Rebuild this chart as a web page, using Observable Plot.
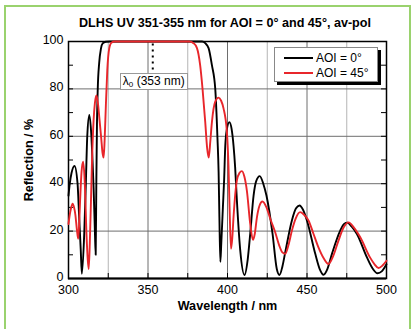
<!DOCTYPE html>
<html><head><meta charset="utf-8">
<script src="https://cdn.jsdelivr.net/npm/d3@7"></script>
<script src="https://cdn.jsdelivr.net/npm/@observablehq/plot@0.6"></script>
<style>
body{margin:0;background:#fff;font-family:"Liberation Sans",Arial,sans-serif;}
#wrap{position:relative;width:414px;height:329px;overflow:hidden;background:#fff;}
#border{position:absolute;left:4px;top:5px;width:407px;height:340px;border:2px solid #9ad26e;box-sizing:border-box;}
#title{position:absolute;left:25px;width:400px;top:16px;text-align:center;font-weight:bold;font-size:12.6px;line-height:15px;color:#000;white-space:nowrap;}
#chart{position:absolute;left:0;top:0;}
#legend{position:absolute;left:274px;top:47px;width:104px;height:35px;box-sizing:border-box;border:1px solid #888;background:#fff;box-shadow:3px 3px 0 #000;}
.lrow{position:absolute;left:0;width:100%;height:14px;}
.lline{position:absolute;left:9px;width:29px;height:2px;top:6px;}
.ltext{position:absolute;left:41px;top:0;font-size:12px;line-height:14px;white-space:nowrap;}
#lam{position:absolute;box-sizing:border-box;border:1px solid #999;background:#fff;font-size:12px;line-height:15px;text-align:center;white-space:nowrap;}
</style>
</head><body>
<div id="wrap">
  <div id="border"></div>
  <div id="chart"></div>
  <div id="title"></div>
  <div id="legend"></div>
</div>
<script>
const titleText = "DLHS UV 351-355 nm for AOI = 0° and 45°, av-pol";
const xLabel = "Wavelength / nm";
const yLabel = "Reflection / %";
const xTicks = [300, 350, 400, 450, 500];
const xMinorTicks = [300, 325, 350, 375, 400, 425, 450, 475, 500];
const yTicks = [0, 20, 40, 60, 80, 100];
const yMinorTicks = [10, 20, 30, 40, 50, 60, 70, 80, 90];
const lambda0 = 353;
const lambdaLabel = "(353 nm)";

const aoi0Wl = [300,300.8,301.9,303.8,305.7,306.7,307.7,308.4,309.9,310.9,311.8,313.1,314.4,315.1,315.8,316.6,317.1,317.5,317.9,318.4,319.3,320.4,321.5,323.5,326,384,386,388.1,390.2,392.3,393.7,394.4,394.9,395.5,396.1,397.1,397.9,398.6,399.6,401.2,402.6,403.8,404.8,405.9,408,410.7,412.7,414.3,416.4,418,420.3,422.5,424.5,428.3,431,432.7,434.5,436.3,440.5,443,445.3,447.5,450,455.2,458,460.4,462.8,465.7,470.9,473.3,475.5,478,481.4,487.7,491,494.4,497,500];
const aoi0R  = [35,40,44.5,47.5,40,26,12,2,19,40,60,69,60,50,38,20,10,40,65,80,91,97,99.2,99.9,100,100,99.3,97.2,90,80,59,45,26,7,15,30,42,56,63,66,63,56,47,33,12,1.5,8,19,35,41,43.2,40,35,19,4,1.5,5,11,24.5,29.5,30.8,29,24.4,10.4,4,1.6,4,10.4,20.2,23,23.5,22,18.8,8.9,4.5,2.2,3,6];

const aoi45Wl = [300,300.6,301.5,302.6,303.5,304.3,305.3,306.1,306.7,307.3,308.2,309.2,310.2,311.3,312.1,312.7,313.4,314.1,314.8,315.8,316.6,317.6,318.5,319.5,320.6,321.4,322.1,322.7,323.5,324.4,325.6,327,329,376,378.6,380.8,382.8,384.3,386,387.2,388.2,389.2,390.2,392.3,394.4,396,397.5,399.6,400.6,401.3,402.2,403,403.8,405.9,407.5,409.1,410.6,412.2,414.3,416,417.2,418.5,420,422,424.5,427,430,432.5,434.5,436.3,438.5,440.5,443,445.7,448,451,454,457.2,460.5,463.5,466.5,469.8,473,476.1,479.5,483.5,489.8,492.5,495,497.5,500];
const aoi45R  = [23,26,29.4,31.6,30,27,20.5,16.7,23,33,45,49.3,41,19,8,4,15,32,50,67,74,77.2,74,67,59,53,51,58,73,88,97,99.5,100,100,99.3,97.2,90,80,66,55,51,58,66,74.6,76.3,75,71.8,62,48,30,12.5,17,26,41.4,44.5,45.3,43,37,23,16.3,19,25.8,30.5,32.5,30,25,19.5,14,11,10.4,14.5,20.2,25.5,28,27,24.4,19,13.1,8.5,6.1,9.5,16,21.5,23.7,21.5,17.4,8.7,6,4.4,5.5,7.5];

const series = [
  {name: "AOI = 0°", wl: aoi0Wl, r: aoi0R, color: "#000000"},
  {name: "AOI = 45°", wl: aoi45Wl, r: aoi45R, color: "#e8262b"}
];
const rows = s => s.wl.map((w, i) => ({wl: w, r: s.r[i]}));

const W = 414, H = 329, mL = 68, mR = 28, mT = 41, mB = 51;
const pw = W - mL - mR, ph = H - mT - mB;

const plot = Plot.plot({
  width: W, height: H,
  marginLeft: mL, marginRight: mR, marginTop: mT, marginBottom: mB,
  x: {domain: [300, 500]},
  y: {domain: [0, 100]},
  style: {fontFamily: '"Liberation Sans", Arial, sans-serif', fontSize: "12px", background: "transparent", color: "#000", overflow: "visible"},
  marks: [
    Plot.gridX([325, 375, 425, 475], {stroke: "#b4b4b4", strokeOpacity: 1, strokeWidth: 1}),
    Plot.gridX([350, 400, 450], {stroke: "#6e6e6e", strokeOpacity: 1, strokeWidth: 1}),
    Plot.gridY([20, 40, 60, 80], {stroke: "#6e6e6e", strokeOpacity: 1, strokeWidth: 1}),
    Plot.tickY(yMinorTicks, {insetRight: pw - 5, stroke: "#000", strokeWidth: 1}),
    Plot.tickY(yMinorTicks, {insetLeft: pw - 5, stroke: "#000", strokeWidth: 1}),
    Plot.tickX(xMinorTicks, {insetTop: ph - 5, stroke: "#000", strokeWidth: 1}),
    Plot.frame({stroke: "#000", strokeWidth: 1.5}),
    Plot.ruleY([0], {stroke: "#000", strokeWidth: 2}),
    Plot.axisX(xTicks, {tickSize: 0, tickPadding: 6.5, label: null, fontSize: 12.5}),
    Plot.axisY(yTicks, {tickSize: 0, tickPadding: 5, dy: -1.5, label: null, fontSize: 12.5}),
    Plot.text([xLabel], {frameAnchor: "bottom", lineAnchor: "middle", textAnchor: "middle", dy: 27, fontWeight: "bold", fontSize: 12.6}),
    Plot.text([yLabel], {frameAnchor: "left", lineAnchor: "middle", textAnchor: "middle", rotate: -90, dx: -40, fontWeight: "bold", fontSize: 12.6}),
    Plot.ruleX([lambda0], {y1: 88, y2: 100, stroke: "#000", strokeWidth: 2, strokeDasharray: "2,4"}),
    ...series.map(s => Plot.line(rows(s), {x: "wl", y: "r", stroke: s.color, strokeWidth: 1.9, curve: "monotone-x"}))
  ]
});
document.getElementById("chart").appendChild(plot);
document.getElementById("title").textContent = titleText;

// legend
const lg = document.getElementById("legend");
series.forEach((s, i) => {
  const row = document.createElement("div");
  row.className = "lrow";
  row.style.top = (2.5 + i * 15.5) + "px";
  row.innerHTML = `<div class="lline" style="background:${s.color}"></div><div class="ltext">${s.name}</div>`;
  lg.appendChild(row);
});

// lambda0 label box placed via the plot's scales
const sx = plot.scale("x"), sy = plot.scale("y");
const lam = document.createElement("div");
lam.id = "lam";
const cx = sx.apply(lambda0);
lam.style.left = (cx - 32.5) + "px";
lam.style.width = "68px";
lam.style.top = sy.apply(86.7) + "px";
lam.style.height = "17.5px";
lam.innerHTML = `λ<sub style="font-size:8px;vertical-align:-2px;">0</sub> ${lambdaLabel}`;
document.getElementById("wrap").appendChild(lam);
</script>
</body></html>
